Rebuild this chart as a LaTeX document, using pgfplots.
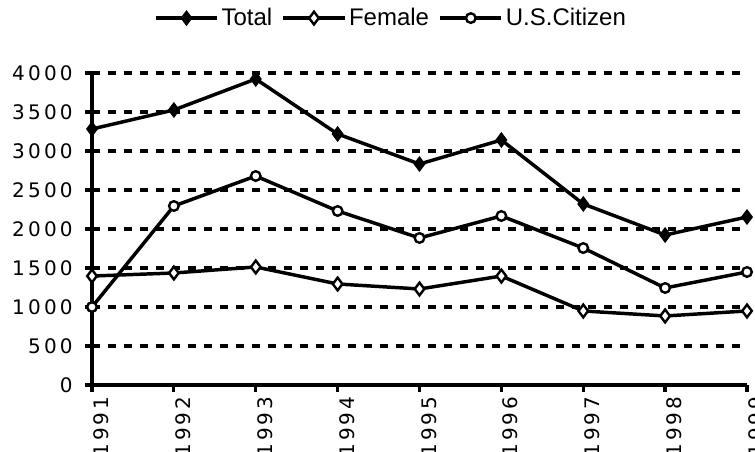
\documentclass[border=0pt]{standalone}
\usepackage{fontspec}
\usepackage{pgfplots}
\pgfplotsset{compat=1.18}
\setmainfont{Liberation Sans}
\newfontfamily\tickfont[LetterSpace=16]{DejaVu Sans}
\begin{document}
\begin{tikzpicture}
\begin{axis}[
  at={(0pt,0pt)}, anchor=origin,
  scale only axis,
  width=491.25pt, height=234pt,
  xmin=1991, xmax=1999,
  ymin=0, ymax=4000,
  xtick={1991,...,1999},
  ytick={0,500,...,4000},
  axis x line=bottom, axis y line=left,
  axis line style={line width=2.6pt, -},
  tick align=outside,
  major tick length=5pt,
  tick style={line width=2.4pt, black},
  ymajorgrids,
  major grid style={line width=2.8pt, black, dash pattern=on 6pt off 6pt},
  /pgf/number format/1000 sep={},
  /pgf/number format/assume math mode=true,
  ticklabel style={font=\tickfont\fontsize{15pt}{16pt}\selectfont},
  yticklabel style={xshift=-6pt},
  xticklabel style={rotate=90, anchor=east, yshift=-7pt},
  legend style={at={(0.457,1.176)}, anchor=center, draw=none, fill=none,
    font=\fontsize{18pt}{19pt}\selectfont,
    /tikz/every even column/.append style={column sep=5pt}},
  legend columns=-1,
  legend cell align=left,
  legend image code/.code={\draw[mark repeat=2,mark phase=2,#1] plot coordinates {(0pt,0pt)(23pt,0pt)(46pt,0pt)};},
  clip=false,
]
\addplot[black, line width=2.6pt, mark=diamond*, mark size=5.2pt, mark options={fill=black, line width=1pt}] coordinates {
(1991,3282) (1992,3526) (1993,3923) (1994,3218) (1995,2833) (1996,3141) (1997,2321) (1998,1923) (1999,2154)};
\addlegendentry{Total}
\addplot[black, line width=2.6pt, mark=diamond*, mark size=4.8pt, mark options={fill=white, line width=1.8pt}] coordinates {
(1991,1397) (1992,1436) (1993,1513) (1994,1295) (1995,1231) (1996,1397) (1997,949) (1998,885) (1999,949)};
\addlegendentry{Female}
\addplot[black, line width=2.6pt, mark=*, mark size=3.6pt, mark options={fill=white, line width=1.8pt}] coordinates {
(1991,1000) (1992,2295) (1993,2679) (1994,2231) (1995,1885) (1996,2167) (1997,1756) (1998,1244) (1999,1449)};
\addlegendentry{U.S.Citizen}
\end{axis}
\pgfresetboundingbox
\useasboundingbox (-69pt,-50.25pt) rectangle (497.25pt,288.75pt);
\end{tikzpicture}
\end{document}
